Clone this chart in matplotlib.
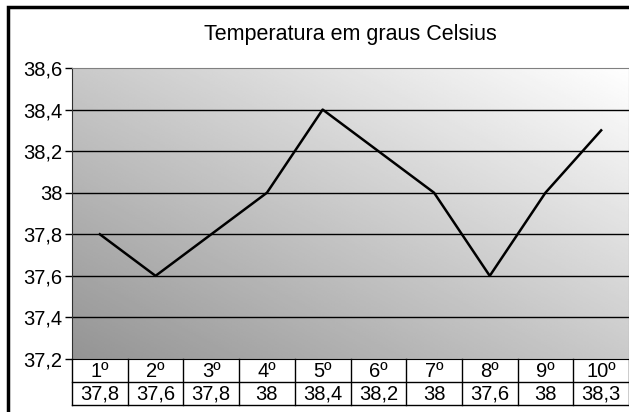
import numpy as np
from matplotlib import pyplot as plt
from matplotlib.patches import Rectangle

# data
categories = ['1º', '2º', '3º', '4º', '5º', '6º', '7º', '8º', '9º', '10º']
temps = [37.8, 37.6, 37.8, 38.0, 38.4, 38.2, 38.0, 37.6, 38.0, 38.3]
yticks = [37.2, 37.4, 37.6, 37.8, 38.0, 38.2, 38.4, 38.6]

def fmt(v):
	s = ('%.1f' % v).replace('.', ',')
	return s[:-2] if s.endswith(',0') else s

plt.rcParams['font.family'] = ['Liberation Sans', 'DejaVu Sans']

fig = plt.figure(figsize=(6.29, 4.12), dpi=100)
ax = fig.add_axes([72/629, 1 - 359/412, 1 - 72/629, (359 - 68)/412])

# diagonal gradient background, dark bottom-left to white top-right
gx, gy = np.meshgrid(np.linspace(0, 1, 200), np.linspace(0, 1, 200))
grad = 0.58 + 0.42 * (gx + gy) / 2
ax.imshow(grad, extent=[0, 1, 0, 1], transform=ax.transAxes, aspect='auto',
	cmap='gray', vmin=0, vmax=1, origin='lower', zorder=0)

x = np.arange(len(categories))
ax.plot(x, temps, '-', color='black', lw=1.8, zorder=3)

ax.set_xlim(-0.5, len(categories) - 0.5)
ax.set_ylim(yticks[0], yticks[-1])
ax.set_yticks(yticks)
ax.set_yticklabels([fmt(v) for v in yticks], fontsize=14.5)
ax.set_xticks([])
for v in yticks[1:-1]:
	ax.axhline(v, color='black', lw=1, zorder=2)
ax.tick_params(axis='y', length=5, width=1, color='black', pad=2)
for s in ['top', 'right']:
	ax.spines[s].set_color('#808080')
ax.spines['left'].set_color('#303030')
ax.spines['bottom'].set_color('black')

ax.set_title('Temperatura em graus Celsius', fontsize=15.5, pad=20)

# data table under the axis
trans = ax.get_xaxis_transform()
rh = 23 / 291
base = 5 / 291
for i in range(len(categories) + 1):
	ax.plot([i - 0.5, i - 0.5], [0, -2 * rh], color='black', lw=1,
		transform=trans, clip_on=False)
for r in [1, 2]:
	ax.plot([-0.5, len(categories) - 0.5], [-r * rh, -r * rh], color='black',
		lw=1, transform=trans, clip_on=False)
for i, (c, t) in enumerate(zip(categories, temps)):
	ax.text(i, -rh + base, c, transform=trans, ha='center', va='baseline', fontsize=14.5)
	ax.text(i, -2 * rh + base, fmt(t), transform=trans, ha='center', va='baseline', fontsize=14.5)

# chart area border (cropped at right and bottom)
fig.add_artist(Rectangle((8/629, -0.2), 1.2, 1.2 - 7/412, fill=False,
	edgecolor='black', lw=2.5, transform=fig.transFigure))

fig.savefig('out.png', dpi=100)
